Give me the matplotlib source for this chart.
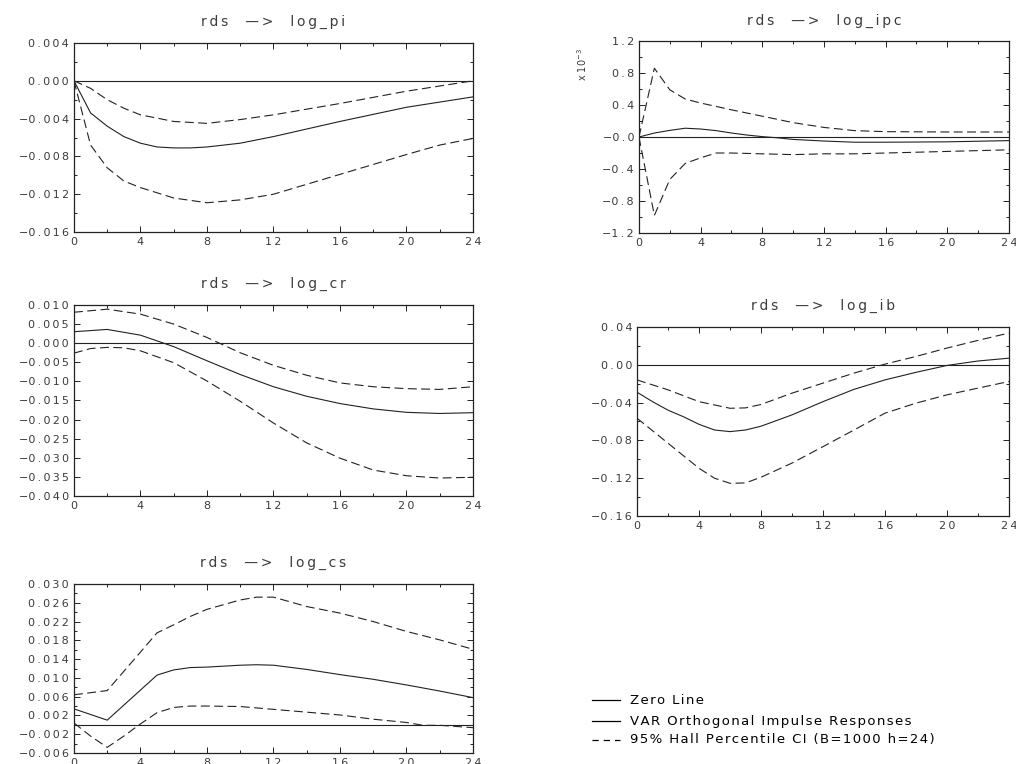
import numpy as np
import matplotlib
matplotlib.use("Agg")
import matplotlib.pyplot as plt
from matplotlib.ticker import MultipleLocator, FixedLocator

# =========================
# DATA
# =========================

# rds -> log_pi
pi_h = [0, 1, 2, 3, 4, 5, 6, 7, 8, 10, 12, 16, 20, 24]
pi_irf = [0, -0.0034, -0.0048, -0.0059, -0.0066, -0.0070, -0.0071, -0.0071, -0.0070,
          -0.0066, -0.0059, -0.0043, -0.0028, -0.0017]
pi_up_h = [0, 1, 2, 3, 4, 6, 8, 10, 12, 16, 20, 24]
pi_up = [0, -0.0008, -0.0020, -0.0029, -0.0036, -0.0043, -0.0045, -0.0041, -0.0036,
         -0.0024, -0.0011, 0.0]
pi_lo_h = [0, 1, 2, 3, 4, 6, 8, 10, 12, 16, 20, 22, 24]
pi_lo = [0, -0.0068, -0.0092, -0.0106, -0.0113, -0.0124, -0.0129, -0.0126, -0.0120,
         -0.0099, -0.0078, -0.0068, -0.0061]

# rds -> log_ipc (x 10^-3)
ipc_h = [0, 1, 2, 3, 4, 5, 6, 7, 8, 9, 10, 12, 14, 16, 20, 24]
ipc_irf = [0, 0.05, 0.083, 0.11, 0.10, 0.08, 0.05, 0.025, 0.005, -0.01, -0.03,
           -0.05, -0.065, -0.065, -0.06, -0.045]
ipc_up_h = [0, 1, 2, 3, 4, 6, 8, 10, 12, 14, 16, 20, 24]
ipc_up = [0, 0.86, 0.59, 0.475, 0.425, 0.34, 0.26, 0.18, 0.12, 0.08, 0.067, 0.063, 0.063]
ipc_lo_h = [0, 1, 2, 3, 4, 5, 6, 8, 10, 12, 14, 16, 20, 24]
ipc_lo = [0, -0.98, -0.53, -0.33, -0.26, -0.20, -0.20, -0.21, -0.22, -0.21, -0.21,
          -0.20, -0.18, -0.16]

# rds -> log_cr
cr_h = [0, 2, 4, 6, 8, 10, 12, 14, 16, 18, 20, 22, 24]
cr_irf = [0.0030, 0.0036, 0.0021, -0.0009, -0.0046, -0.0082, -0.0114, -0.0139,
          -0.0158, -0.0172, -0.0181, -0.0184, -0.0182]
cr_up = [0.0081, 0.0089, 0.0076, 0.0050, 0.0015, -0.0025, -0.0058, -0.0084,
         -0.0104, -0.0114, -0.0119, -0.0121, -0.0114]
cr_lo_h = [0, 1, 2, 3, 4, 6, 8, 10, 12, 14, 16, 18, 20, 22, 24]
cr_lo = [-0.0026, -0.0014, -0.0011, -0.0012, -0.0020, -0.0051, -0.0099, -0.0152,
         -0.0209, -0.0261, -0.0301, -0.0332, -0.0347, -0.0353, -0.0351]

# rds -> log_ib
ib_h = [0, 1, 2, 3, 4, 5, 6, 7, 8, 10, 12, 14, 16, 18, 20, 22, 24]
ib_irf = [-0.029, -0.039, -0.048, -0.055, -0.063, -0.069, -0.0707, -0.069, -0.065,
          -0.053, -0.039, -0.026, -0.016, -0.008, -0.0007, 0.004, 0.007]
ib_up_h = [0, 2, 4, 6, 7, 8, 10, 12, 14, 16, 18, 20, 22, 24]
ib_up = [-0.016, -0.0265, -0.039, -0.046, -0.0456, -0.042, -0.030, -0.0194, -0.0088,
         0.0007, 0.0088, 0.0177, 0.0258, 0.0336]
ib_lo_h = [0, 2, 4, 5, 6, 7, 8, 10, 12, 14, 16, 18, 20, 22, 24]
ib_lo = [-0.0565, -0.083, -0.1095, -0.120, -0.1254, -0.125, -0.119, -0.104, -0.0866,
         -0.069, -0.0512, -0.0406, -0.0318, -0.0247, -0.0177]

# rds -> log_cs
cs_h = [0, 2, 5, 6, 7, 8, 10, 11, 12, 14, 16, 18, 20, 22, 24]
cs_irf = [0.0034, 0.0010, 0.0106, 0.0117, 0.0122, 0.0123, 0.0127, 0.0128, 0.0127,
          0.0118, 0.0107, 0.0097, 0.0085, 0.0072, 0.0058]
cs_up_h = [0, 2, 5, 6, 7, 8, 10, 11, 12, 14, 16, 18, 20, 22, 24]
cs_up = [0.0064, 0.0073, 0.0196, 0.0213, 0.0231, 0.0246, 0.0266, 0.0272, 0.0272,
         0.0252, 0.0238, 0.0220, 0.0199, 0.0181, 0.0161]
cs_lo_h = [0, 1, 2, 3, 4, 5, 6, 7, 8, 10, 12, 13, 16, 18, 20, 21, 22, 24]
cs_lo = [0.0004, -0.0024, -0.0048, -0.0024, 0.0002, 0.0026, 0.0037, 0.0040, 0.0040,
         0.0039, 0.0033, 0.0030, 0.0021, 0.0012, 0.0005, -0.0001, -0.0001, -0.0006]

leg_labels = ["Zero Line", "VAR Orthogonal Impulse Responses",
              "95% Hall Percentile CI (B=1000 h=24)"]

TEXT_COL = "#3c3c3c"
LINE_COL = "#222222"
DASH = (0, (8, 4))
SP = "\u2009"
HAIR = "\u200a"

fig = plt.figure(figsize=(10.16, 7.64), dpi=100)


def spaced(s, sp=SP):
    return sp.join(s)


def setup(ax, title, ylim, ymajor, fmt, title_pad=12):
    ax.set_xlim(0, 24)
    ax.set_ylim(*ylim)
    ax.xaxis.set_major_locator(MultipleLocator(4))
    ax.xaxis.set_minor_locator(MultipleLocator(2))
    ax.xaxis.set_major_formatter(lambda v, p: spaced(f"{v:.0f}"))
    ax.yaxis.set_major_locator(MultipleLocator(ymajor))
    ax.yaxis.set_minor_locator(MultipleLocator(ymajor / 2))
    ax.tick_params(which="both", direction="in", top=True, right=True,
                   labelsize=8, labelcolor=TEXT_COL, color=LINE_COL, width=0.7)
    ax.tick_params(which="major", length=4)
    ax.tick_params(which="minor", length=2.5)
    ax.yaxis.set_major_formatter(fmt)
    for s in ax.spines.values():
        s.set_linewidth(0.9)
        s.set_color(LINE_COL)
    ax.set_title(spaced(title), fontsize=10, color=TEXT_COL, pad=title_pad)


def draw(ax, xi, yi, xu, yu, xl, yl):
    ax.axhline(0, color=LINE_COL, lw=0.8)
    ax.plot(xi, yi, color=LINE_COL, lw=0.8)
    ax.plot(xu, yu, color=LINE_COL, lw=0.8, linestyle=DASH)
    ax.plot(xl, yl, color=LINE_COL, lw=0.8, linestyle=DASH)


def make_fmt(nd):
    def f(v, pos):
        if abs(v) < 1e-9:
            return spaced(f"{0:.{nd}f}")
        s = f"{abs(v):.{nd}f}"
        return ("\u2212" if v < 0 else "") + spaced(s)
    return f


def ipc_fmt(v, pos):
    s = spaced(f"{abs(v):.1f}")
    return ("\u2212" + s) if v <= 1e-9 else s


# =========================
# PANELS
# =========================
ax1 = fig.add_axes([0.0728, 0.6963, 0.3927, 0.2474])
draw(ax1, pi_h, pi_irf, pi_up_h, pi_up, pi_lo_h, pi_lo)
setup(ax1, "rds  \u2014>  log_pi", (-0.016, 0.004), 0.004, make_fmt(3))

ax2 = fig.add_axes([0.6289, 0.695, 0.3642, 0.2513])
draw(ax2, ipc_h, ipc_irf, ipc_up_h, ipc_up, ipc_lo_h, ipc_lo)
setup(ax2, "rds  \u2014>  log_ipc", (-1.2, 1.2), 0.4, ipc_fmt)
fig.text(0.573, 0.915, "x 10$^{-3}$", rotation=90, fontsize=7, color=TEXT_COL,
         ha="center", va="center")

ax3 = fig.add_axes([0.0728, 0.3508, 0.3927, 0.25])
draw(ax3, cr_h, cr_irf, cr_h, cr_up, cr_lo_h, cr_lo)
setup(ax3, "rds  \u2014>  log_cr", (-0.040, 0.010), 0.005, make_fmt(3))
ax3.yaxis.set_minor_locator(FixedLocator([]))

ax4 = fig.add_axes([0.627, 0.3246, 0.366, 0.2474])
draw(ax4, ib_h, ib_irf, ib_up_h, ib_up, ib_lo_h, ib_lo)
setup(ax4, "rds  \u2014>  log_ib", (-0.16, 0.04), 0.04, make_fmt(2))

ax5 = fig.add_axes([0.0728, 0.0144, 0.3927, 0.2212])
draw(ax5, cs_h, cs_irf, cs_up_h, cs_up, cs_lo_h, cs_lo)
setup(ax5, "rds  \u2014>  log_cs", (-0.006, 0.030), 0.004, make_fmt(3))
ax5.yaxis.set_major_locator(FixedLocator(np.arange(-0.006, 0.0301, 0.004)))
ax5.yaxis.set_minor_locator(FixedLocator(np.arange(-0.004, 0.0301, 0.004)))

# =========================
# LEGEND
# =========================
leg_styles = ["-", "-", (0, (5, 4))]
leg_y = [700, 721, 740]
for lab, ls, yy in zip(leg_labels, leg_styles, leg_y):
    yf = 1 - yy / 764
    fig.add_artist(plt.Line2D([592 / 1016, 620 / 1016], [yf, yf], color="black",
                              lw=0.9, linestyle=ls))
    fig.text(630 / 1016, yf, spaced(lab, HAIR), fontsize=9.5, color="black", va="center")

plt.savefig("out.png", dpi=100)
